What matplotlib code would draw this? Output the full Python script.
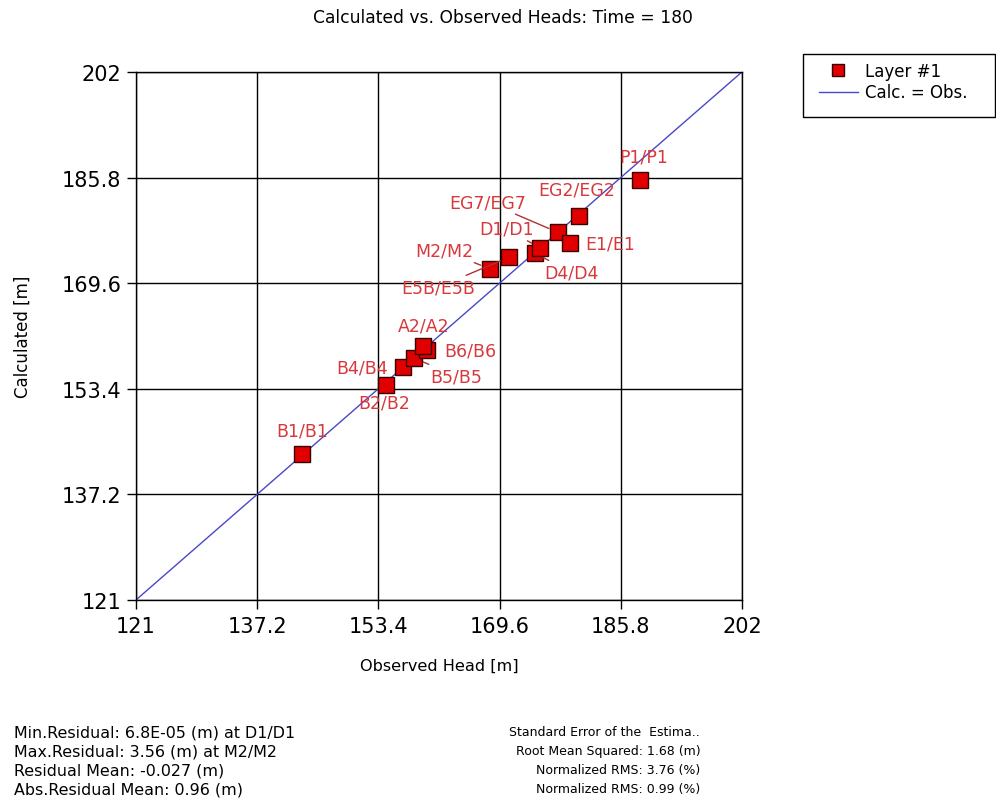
import numpy as np
import matplotlib
matplotlib.use("Agg")
import matplotlib.pyplot as plt
from matplotlib.patches import Rectangle

# observed / calculated heads
wells = ["B1/B1", "B2/B2", "B4/B4", "B5/B5", "B6/B6", "A2/A2", "M2/M2", "E5B/E5B",
         "D4/D4", "D1/D1", "EG7/EG7", "E1/E1", "EG2/EG2", "P1/P1"]
observed = [143.2, 154.4, 156.7, 158.2, 159.9, 159.4, 168.3, 170.9,
            174.3, 175.0, 177.4, 179.0, 180.2, 188.4]
calculated = [143.4, 154.0, 156.7, 158.1, 159.3, 160.0, 171.8, 173.6,
              174.2, 175.0, 177.4, 175.8, 179.9, 185.4]
ticks = [121, 137.2, 153.4, 169.6, 185.8, 202]
tick_labels = ["121", "137.2", "153.4", "169.6", "185.8", "202"]

stats_left = ["Min.Residual: 6.8E-05 (m) at D1/D1",
              "Max.Residual: 3.56 (m) at M2/M2",
              "Residual Mean: -0.027 (m)",
              "Abs.Residual Mean: 0.96 (m)"]
stats_right = ["Standard Error of the  Estima..",
               "Root Mean Squared: 1.68 (m)",
               "Normalized RMS: 3.76 (%)",
               "Normalized RMS: 0.99 (%)"]

# label offsets in pixels (dx, dy, leader line?)
label_pos = {
    "B1/B1": (0, 23, False), "B2/B2": (-2, -18, False), "B4/B4": (-41, 0, False),
    "B5/B5": (42, -18, True), "B6/B6": (43, 0, False), "A2/A2": (0, 20, False),
    "M2/M2": (-45, 18, True), "E5B/E5B": (-71, -30, True), "D4/D4": (37, -19, True),
    "D1/D1": (-33, 19, True), "EG7/EG7": (-70, 30, True), "E1/E1": (40, -1, False),
    "EG2/EG2": (-2, 27, False), "P1/P1": (4, 24, False),
}

plt.rcParams["font.family"] = "DejaVu Sans"
fig = plt.figure(figsize=(9.96, 8.03), dpi=100)
ax = fig.add_axes([0.1365, 0.2516, 0.6084, 0.6575])

lo, hi = ticks[0], ticks[-1]
ax.plot([lo, hi], [lo, hi], color="#4848c8", lw=1, label="Calc. = Obs.", zorder=2)
ax.plot(observed, calculated, "s", ms=11.5, mfc="#e00000", mec="#3a0000", mew=1,
        ls="none", label="Layer #1", zorder=3)

lab_col = "#d8383c"
for name, x, y in zip(wells, observed, calculated):
    dx, dy, lead = label_pos[name]
    ap = dict(arrowstyle="-", color="#b03030", lw=1, shrinkA=0, shrinkB=7) if lead else None
    ax.annotate(name, (x, y), xytext=(dx, dy), textcoords="offset pixels",
                ha="center", va="center", fontsize=12.5, color=lab_col,
                arrowprops=ap, zorder=4)

ax.set_xlim(lo, hi)
ax.set_ylim(lo, hi)
ax.set_xticks(ticks, tick_labels)
ax.set_yticks(ticks, tick_labels)
ax.tick_params(direction="out", length=6.5, width=1, labelsize=15, pad=4, color="black")
ax.tick_params(axis="x", pad=5)
ax.grid(True, color="black", lw=1)
ax.set_axisbelow(True)
for s in ax.spines.values():
    s.set_color("black")
    s.set_linewidth(1)

ax.set_xlabel("Observed Head [m]", fontsize=11.6, labelpad=16)
ax.set_ylabel("Calculated [m]", fontsize=12, labelpad=21)
fig.text(0.5045, 0.978, "Calculated vs. Observed Heads: Time = 180", ha="center",
         va="center", fontsize=12.3)

# legend: frame drawn separately, it sits off to the right of the plot
fig.patches.append(Rectangle((803 / 996, 1 - 118 / 803), 192 / 996, 63 / 803,
                             transform=fig.transFigure, facecolor="white",
                             edgecolor="black", lw=1, zorder=1))
h, l = ax.get_legend_handles_labels()
leg = fig.legend(h[::-1], l[::-1], loc="upper left", bbox_to_anchor=(0.8223, 0.9215),
                 fontsize=12, frameon=False, borderpad=0, borderaxespad=0,
                 handlelength=2.33, labelspacing=0.2, handletextpad=0.42)
leg.legend_handles[0].set_markersize(9)
leg.set_zorder(2)

for i, t in enumerate(stats_left):
    fig.text(0.014, 1 - (733 + 19 * i) / 803, t, ha="left", va="center", fontsize=11.4)
for i, t in enumerate(stats_right):
    fig.text(0.703, 1 - (733 + 19 * i) / 803, t, ha="right", va="center", fontsize=9)

fig.savefig("out.png", dpi=100)
